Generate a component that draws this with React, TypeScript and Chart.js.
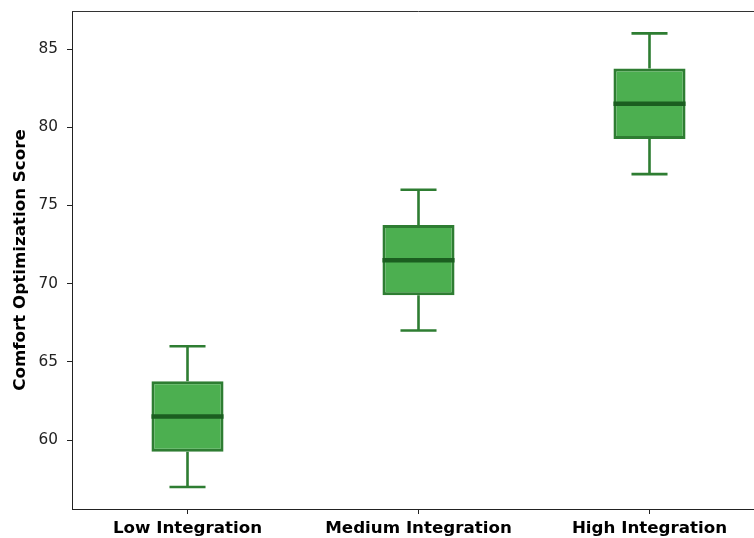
import React, { useEffect, useRef } from "react";
import { Chart, registerables } from "chart.js";

Chart.register(...registerables);

const categories = ["Low Integration", "Medium Integration", "High Integration"];
const mins = [57, 67, 77];
const q1s = [59.25, 69.25, 79.25];
const medians = [61.5, 71.5, 81.5];
const q3s = [63.75, 73.75, 83.75];
const maxs = [66, 76, 86];
const yTicks = [60, 65, 70, 75, 80, 85];

const FILL = "#4CAF50";
const EDGE = "#2E7D32";
const MEDIAN = "#1B5E20";
const FONT = "'DejaVu Sans', sans-serif";

const boxPlugin = {
  id: "boxExtras",
  beforeDatasetsDraw(chart: any) {
    const { ctx, scales } = chart;
    const x = scales.x;
    const y = scales.y;
    const meta = chart.getDatasetMeta(0);
    ctx.save();
    ctx.strokeStyle = EDGE;
    ctx.lineWidth = 2.6;
    categories.forEach((_, i) => {
      const cx = x.getPixelForValue(i);
      const bw = meta.data[i] ? meta.data[i].width : 70;
      const capHalf = bw / 4;
      const yMin = y.getPixelForValue(mins[i]);
      const yMax = y.getPixelForValue(maxs[i]);
      const yQ1 = y.getPixelForValue(q1s[i]);
      const yQ3 = y.getPixelForValue(q3s[i]);
      ctx.beginPath();
      ctx.moveTo(cx, yQ1);
      ctx.lineTo(cx, yMin);
      ctx.moveTo(cx, yQ3);
      ctx.lineTo(cx, yMax);
      ctx.moveTo(cx - capHalf, yMin);
      ctx.lineTo(cx + capHalf, yMin);
      ctx.moveTo(cx - capHalf, yMax);
      ctx.lineTo(cx + capHalf, yMax);
      ctx.stroke();
    });
    ctx.restore();
  },
  afterDatasetsDraw(chart: any) {
    const { ctx, scales, chartArea } = chart;
    const x = scales.x;
    const y = scales.y;
    const meta = chart.getDatasetMeta(0);
    ctx.save();
    ctx.strokeStyle = MEDIAN;
    ctx.lineWidth = 4.5;
    categories.forEach((_, i) => {
      const cx = x.getPixelForValue(i);
      const bw = meta.data[i] ? meta.data[i].width : 70;
      const ym = y.getPixelForValue(medians[i]);
      ctx.beginPath();
      ctx.moveTo(cx - bw / 2, ym);
      ctx.lineTo(cx + bw / 2, ym);
      ctx.stroke();
    });
    ctx.strokeStyle = "#333";
    ctx.lineWidth = 1;
    ctx.beginPath();
    ctx.moveTo(chartArea.left, chartArea.top + 0.5);
    ctx.lineTo(chartArea.right, chartArea.top + 0.5);
    ctx.moveTo(chartArea.right - 0.5, chartArea.top);
    ctx.lineTo(chartArea.right - 0.5, chartArea.bottom);
    ctx.stroke();
    ctx.restore();
  },
};

export default function App() {
  const ref = useRef<HTMLCanvasElement | null>(null);
  useEffect(() => {
    document.body.style.margin = "0";
    document.body.style.overflow = "hidden";
    if (!ref.current) return;
    const chart = new Chart(ref.current, {
      type: "bar",
      data: {
        labels: categories,
        datasets: [
          {
            data: categories.map((_, i) => [q1s[i], q3s[i]]) as any,
            backgroundColor: FILL,
            borderColor: EDGE,
            borderWidth: 3,
            borderSkipped: false,
            barPercentage: 0.312,
            categoryPercentage: 1,
          },
        ],
      },
      options: {
        responsive: false,
        animation: false,
        layout: { padding: { top: 11, right: 15, left: 0, bottom: 0 } },
        plugins: { legend: { display: false }, tooltip: { enabled: false } },
        scales: {
          x: {
            offset: true,
            afterFit: (scale: any) => {
              scale.height = 29;
              scale.paddingLeft = 0;
              scale.paddingRight = 0;
            },
            grid: { offset: false, drawOnChartArea: false, tickLength: 5, color: "#222", tickWidth: 1 },
            border: { display: true, color: "#222", width: 1 },
            ticks: { color: "#000", padding: 5, font: { family: FONT, size: 16.7, weight: "bold" } },
          },
          y: {
            min: 55.59,
            max: 87.43,
            afterBuildTicks: (scale: any) => {
              scale.ticks = yTicks.map((v) => ({ value: v }));
            },
            afterFit: (scale: any) => {
              scale.width = 72;
              scale.paddingTop = 0;
              scale.paddingBottom = 0;
            },
            grid: { drawOnChartArea: false, tickLength: 5, color: "#222", tickWidth: 1 },
            border: { display: true, color: "#222", width: 1 },
            ticks: { color: "#222", padding: 9, font: { family: FONT, size: 15.3 } },
            title: {
              display: true,
              text: "Comfort Optimization Score",
              color: "#000",
              padding: { top: 10.5, bottom: 0 },
              font: { family: FONT, size: 16.7, weight: "bold" },
            },
          },
        },
      },
      plugins: [boxPlugin],
    });
    return () => chart.destroy();
  }, []);
  return (
    <div style={{ width: 754, height: 538, overflow: "hidden", background: "#fff" }}>
      <canvas ref={ref} width={780} height={538} style={{ display: "block" }} />
    </div>
  );
}
